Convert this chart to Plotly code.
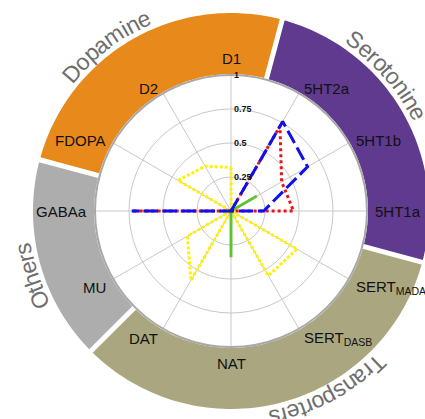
import numpy as np
import plotly.graph_objects as go

# ---------------- data ----------------
categories = ["D1", "5HT2a", "5HT1b", "5HT1a", "SERT_MADAM", "SERT_DASB",
              "NAT", "DAT", "MU", "GABAa", "FDOPA", "D2"]
category_labels = ["D1", "5HT2a", "5HT1b", "5HT1a", "SERT<sub>MADAM</sub>",
                   "SERT<sub>DASB</sub>", "NAT", "DAT", "MU", "GABAa", "FDOPA", "D2"]

yellow_values = [0.32, 0, 0, 0, 0.56, 0.55, 0, 0.59, 0.37, 0, 0.45, 0.38]
green_values = [0, 0, 0.22, 0, 0, 0, 0.34, 0, 0, 0, 0, 0]
red_values = [0, 0.72, 0.43, 0.46, 0, 0, 0, 0, 0, 0.73, 0, 0]
blue_values = [0, 0.76, 0.65, 0.24, 0, 0, 0, 0, 0, 0.73, 0, 0]

radial_ticks = [0.25, 0.5, 0.75, 1]
radial_tick_labels = ["0.25", "0.5", "0.75", "1"]

group_names = ["Dopamine", "Serotonine", "Transporters", "Others"]
group_members = [["FDOPA", "D2", "D1"],
                 ["5HT2a", "5HT1b", "5HT1a"],
                 ["SERT_MADAM", "SERT_DASB", "NAT", "DAT"],
                 ["MU", "GABAa"]]

# ---------------- layout geometry / styles ----------------
W, H = 425, 419
CX, CY, R = 231, 211, 136
RING_IN, RING_OUT = 137, 198
FONT = "Liberation Sans, Arial, sans-serif"
group_colors = ["#E8891C", "#5F3A8E", "#AAA780", "#ADADAD"]
group_text_shift = [-7, -11, -13, -3]  # degrees, label centre relative to sector centre
step = 360 / len(categories)


def px(x):
    return x / W


def py(y):
    return 1 - y / H


def pt(r, deg):
    a = np.radians(deg)
    return CX + r * np.sin(a), CY - r * np.cos(a)


fig = go.Figure()


def close(v):
    return list(v) + [v[0]]


theta = close(categories)
fig.add_trace(go.Scatterpolar(r=close(yellow_values), theta=theta, mode="lines",
                              line=dict(color="#FFF200", width=3, dash="3px,2px"),
                              showlegend=False, hoverinfo="skip"))
fig.add_trace(go.Scatterpolar(r=close(green_values), theta=theta, mode="lines",
                              line=dict(color="#62C234", width=3),
                              showlegend=False, hoverinfo="skip"))
fig.add_trace(go.Scatterpolar(r=close(red_values), theta=theta, mode="lines",
                              line=dict(color="#E8141C", width=3, dash="3px,3px"),
                              showlegend=False, hoverinfo="skip"))
fig.add_trace(go.Scatterpolar(r=close(blue_values), theta=theta, mode="lines",
                              line=dict(color="#1010E8", width=3, dash="14px,5px"),
                              showlegend=False, hoverinfo="skip"))

shapes = []
annotations = []

# ---- ring sectors ----
for gi, members in enumerate(group_members):
    idx = [categories.index(m) for m in members]
    angs = [idx[0] * step]
    for k in idx[1:]:
        a = k * step
        while a < angs[-1]:
            a += 360
        angs.append(a)
    a0, a1 = angs[0] - step / 2, angs[-1] + step / 2
    ts = np.linspace(a0, a1, 80)
    outer = [pt(RING_OUT, t) for t in ts]
    inner = [pt(RING_IN, t) for t in ts[::-1]]
    path = "M " + " L ".join(f"{px(x):.5f},{py(y):.5f}" for x, y in outer + inner) + " Z"
    shapes.append(dict(type="path", path=path, xref="paper", yref="paper",
                       fillcolor=group_colors[gi], line=dict(width=0), layer="below"))
    # group label along arc
    name = group_names[gi]
    size = 23
    cw = {"D": .722, "o": .556, "p": .556, "a": .556, "m": .833, "i": .222, "n": .556,
          "e": .556, "S": .667, "r": .333, "t": .278, "T": .611, "s": .5, "O": .778, "h": .556}
    widths = [cw.get(c, .55) * size for c in name]
    total = sum(widths)
    rr = 211
    centre = (a0 + a1) / 2 + group_text_shift[gi]
    s = -total / 2
    for c, wd in zip(name, widths):
        mid = s + wd / 2
        s += wd
        ang = centre + np.degrees(mid / rr)
        x, y = pt(rr, ang)
        ta = ((ang + 180) % 360) - 180
        annotations.append(dict(text=c, x=px(x), y=py(y), xref="paper", yref="paper",
                                xanchor="center", yanchor="middle", showarrow=False,
                                textangle=ta, font=dict(family=FONT, size=size, color="#6E6E6E")))

# ---- white gaps between sectors ----
for gi, members in enumerate(group_members):
    a0 = categories.index(members[0]) * step - step / 2
    x0, y0 = pt(RING_IN - 1, a0)
    x1, y1 = pt(RING_OUT + 4, a0)
    shapes.append(dict(type="line", x0=px(x0), y0=py(y0), x1=px(x1), y1=py(y1),
                       xref="paper", yref="paper", line=dict(color="white", width=5),
                       layer="below"))

# ---- category labels ----
for i, lab in enumerate(category_labels):
    ang = i * step
    sa, ca = np.sin(np.radians(ang)), np.cos(np.radians(ang))
    x, y = pt(142, ang)
    if abs(sa) < 0.1:
        xa, ya = "center", ("bottom" if ca > 0 else "top")
        ysh = 0
    else:
        xa = "left" if sa > 0 else "right"
        ya = "middle"
        ysh = -5 if ca < -0.1 else 0
    annotations.append(dict(text=lab, x=px(x), y=py(y), xref="paper", yref="paper",
                            xanchor=xa, yanchor=ya, yshift=ysh, showarrow=False,
                            font=dict(family=FONT, size=15, color="#111111")))

# ---- radial tick labels ----
for v, lab in zip(radial_ticks, radial_tick_labels):
    annotations.append(dict(text="<b>" + lab + "</b>", x=px(CX + 1), y=py(CY - v * R),
                            xref="paper", yref="paper",
                            xanchor="left", yanchor="middle", showarrow=False,
                            font=dict(family=FONT, size=9, color="#111111")))

fig.update_layout(
    width=W, height=H,
    margin=dict(l=0, r=0, t=0, b=0),
    paper_bgcolor="white",
    plot_bgcolor="white",
    showlegend=False,
    polar=dict(
        domain=dict(x=[px(CX - R), px(CX + R)], y=[py(CY + R), py(CY - R)]),
        bgcolor="white",
        angularaxis=dict(direction="clockwise", rotation=90, type="category",
                         categoryorder="array", categoryarray=categories,
                         showticklabels=False, ticks="", showgrid=True,
                         gridcolor="#C8C8C8", gridwidth=1,
                         showline=True, linecolor="#A8A8A8", linewidth=2),
        radialaxis=dict(range=[0, 1], tickvals=radial_ticks, showticklabels=False,
                        ticks="", showline=False, showgrid=True,
                        gridcolor="#C8C8C8", gridwidth=1),
    ),
    shapes=shapes,
    annotations=annotations,
)

fig.write_html("out.html", config={"displayModeBar": False},
               post_script="document.body.style.margin='0px';document.body.style.overflow='hidden';")
